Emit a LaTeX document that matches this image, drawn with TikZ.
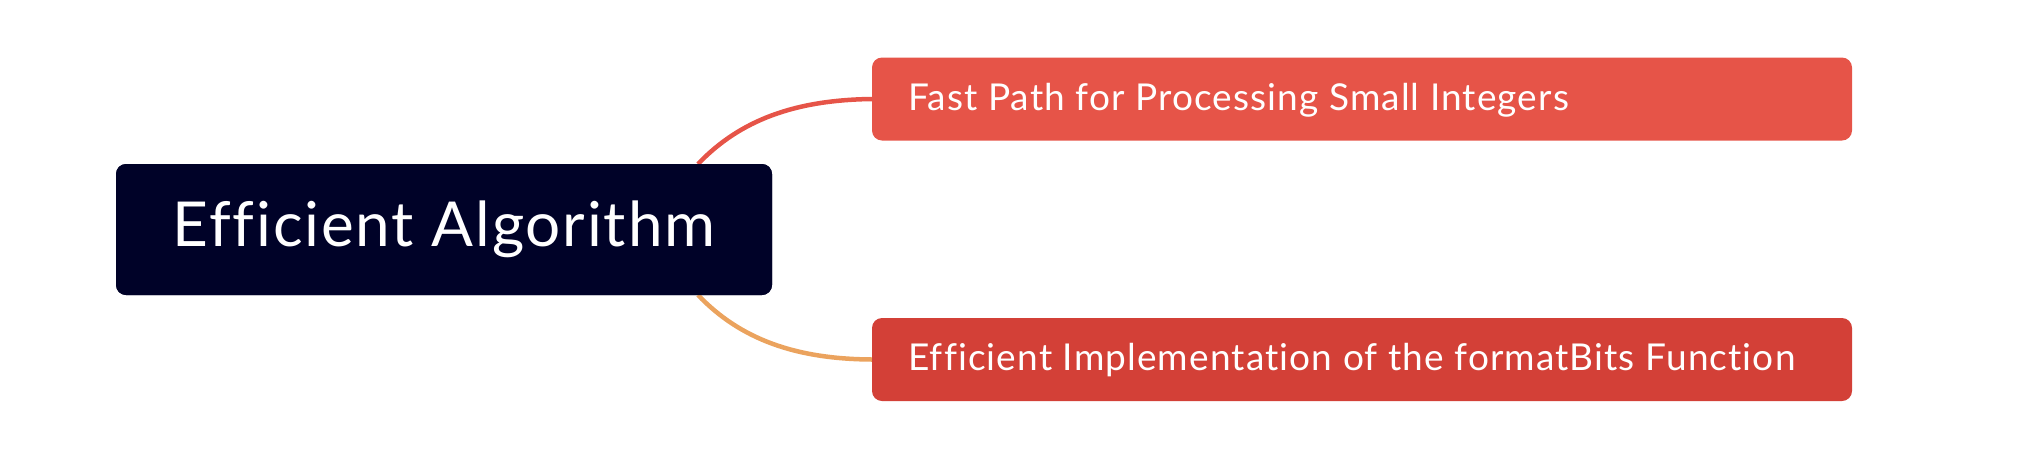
\documentclass[tikz,border=0pt]{standalone}
\usepackage{fontspec}
\setmainfont[Ligatures={NoCommon,NoRare,NoContextual}, LetterSpace=3]{Lato}
\definecolor{rootc}{RGB}{0,2,40}
\definecolor{topc}{RGB}{230,84,72}
\definecolor{botc}{RGB}{211,64,55}
\definecolor{orc}{RGB}{235,163,94}
\tikzset{
  rootbox/.style={fill=rootc, rounded corners=10pt, minimum width=656pt, minimum height=131pt, inner sep=0pt, text=white, font=\fontsize{62}{66}\selectfont},
  leafbox/.style={rounded corners=10pt, minimum width=980pt, minimum height=83pt, inner sep=0pt},
  leaftext/.style={anchor=west, text=white, font=\fontsize{37}{42}\selectfont, inner sep=0pt},
  link/.style={line width=4.5pt}
}
\begin{document}
\begin{tikzpicture}[x=1pt,y=-1pt]
\useasboundingbox (0,0) rectangle (2038,464);
\node[rootbox] (root) at (444,229.5) {Efficient Algorithm};
\node[leafbox, fill=topc] (top) at (1362,99) {};
\node[leafbox, fill=botc] (bot) at (1362,359.5) {};
\node[leaftext] (toptext) at (908,100) {Fast Path for Processing Small Integers};
\node[leaftext] (bottext) at (908,360) {Efficient Implementation of the formatBits Function};
\coordinate (r1) at (698,164);
\coordinate (r2) at (698,295);
\draw[link, topc] (r1) .. controls (740,120) and (795,100) .. (top.west);
\draw[link, orc] (r2) .. controls (740,339) and (795,359) .. (bot.west);
\node[rootbox] at (root) {Efficient Algorithm};
\end{tikzpicture}
\end{document}
